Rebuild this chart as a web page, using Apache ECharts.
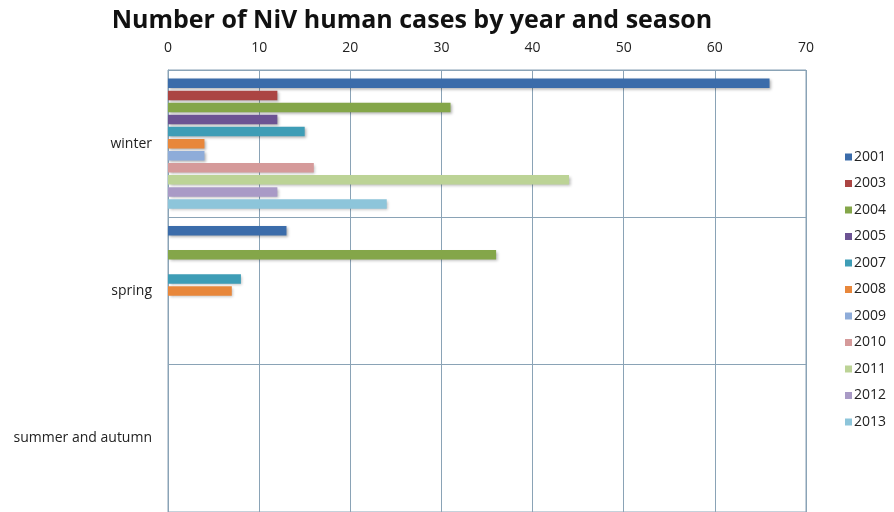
<!DOCTYPE html>
<html>
<head>
<meta charset="utf-8">
<script src="https://cdn.jsdelivr.net/npm/echarts@6/dist/echarts.min.js"></script>
<style>html,body{margin:0;padding:0;background:#fff;}#c{width:894px;height:512px;}</style>
</head>
<body>
<div id="c"></div>
<script>
var seasons = ['winter', 'spring', 'summer and autumn'];
var years = ['2001', '2003', '2004', '2005', '2007', '2008', '2009', '2010', '2011', '2012', '2013'];
var v2001 = [66, 13, 0];
var v2003 = [12, 0, 0];
var v2004 = [31, 36, 0];
var v2005 = [12, 0, 0];
var v2007 = [15, 8, 0];
var v2008 = [4, 7, 0];
var v2009 = [4, 0, 0];
var v2010 = [16, 0, 0];
var v2011 = [44, 0, 0];
var v2012 = [12, 0, 0];
var v2013 = [24, 0, 0];
var xTicks = [0, 10, 20, 30, 40, 50, 60, 70];

var values = [v2001, v2003, v2004, v2005, v2007, v2008, v2009, v2010, v2011, v2012, v2013];
var colors = ['#3b6caa', '#ab4543', '#84a649', '#6c5393', '#3e9db6', '#e8873b', '#8eacd9', '#d59a9a', '#bcd396', '#a99ac6', '#8dc5da'];

var chart = echarts.init(document.getElementById('c'));
var font = '"Open Sans", "Liberation Sans", sans-serif';
var series = years.map(function (y, i) {
  return {
    name: y,
    type: 'bar',
    data: values[i].map(function (v) { return v === 0 ? '-' : v; }),
    barWidth: 9.5,
    barGap: '27%',
    itemStyle: {
      color: colors[i],
      shadowColor: 'rgba(0,0,0,0.3)',
      shadowBlur: 3,
      shadowOffsetX: 1.5,
      shadowOffsetY: 1.5
    }
  };
});
chart.setOption({
  animation: false,
  color: colors,
  title: {
    text: 'Number of NiV human cases by year and season',
    left: 407,
    textAlign: 'center',
    top: 3,
    textStyle: { fontFamily: font, fontSize: 25, fontWeight: 'bold', color: '#111' }
  },
  legend: {
    orient: 'vertical',
    left: 840,
    top: 145,
    itemWidth: 7,
    itemHeight: 7,
    itemGap: 12.5,
    icon: 'rect',
    data: years,
    textStyle: { fontFamily: font, fontSize: 14, color: '#222', padding: [0, 0, 0, -3] }
  },
  grid: {
    left: 168,
    right: 88,
    top: 70,
    bottom: -1,
    show: true,
    borderColor: '#8aa3b6',
    borderWidth: 1
  },
  xAxis: {
    type: 'value',
    position: 'top',
    min: xTicks[0],
    max: xTicks[xTicks.length - 1],
    interval: 10,
    axisLine: { show: false },
    axisTick: { show: false },
    axisLabel: { fontFamily: font, fontSize: 14, color: '#222', margin: 15 },
    splitLine: { show: true, lineStyle: { color: '#8aa3b6', width: 1 } }
  },
  yAxis: {
    type: 'category',
    inverse: true,
    data: seasons,
    axisLine: { show: true, lineStyle: { color: '#8aa3b6' } },
    axisTick: { show: false },
    axisLabel: { fontFamily: font, fontSize: 14, color: '#222', margin: 16 },
    splitLine: { show: true, lineStyle: { color: '#8aa3b6', width: 1 } }
  },
  series: series
});
</script>
</body>
</html>
